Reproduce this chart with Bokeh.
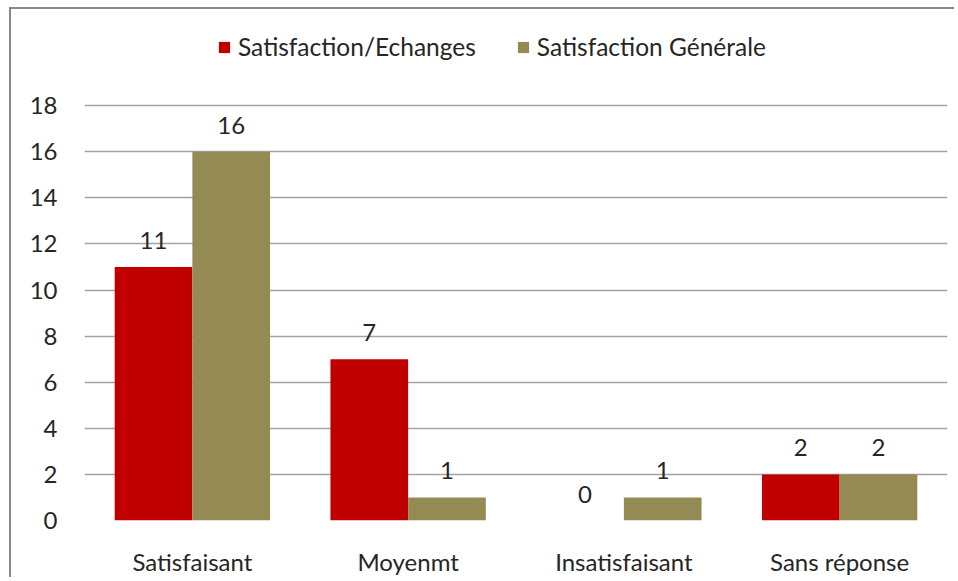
from bokeh.plotting import figure
from bokeh.models import ColumnDataSource, Range1d, FactorRange, LabelSet, Legend, LegendItem
from bokeh.transform import dodge
from bokeh.core.properties import value
from bokeh.embed import file_html
from bokeh.resources import INLINE

categories = ["Satisfaisant", "Moyenmt", "Insatisfaisant", "Sans réponse"]
series_names = ["Satisfaction/Echanges", "Satisfaction Générale"]
echanges = [11, 7, 0, 2]
generale = [16, 1, 1, 2]
y_ticks = [0, 2, 4, 6, 8, 10, 12, 14, 16, 18]

RED = "#C00000"
OLIVE = "#948A54"
FONT = "Lato"
TXT = "#262626"
FS = "24px"

src = ColumnDataSource(dict(cat=categories, ech=echanges, gen=generale,
                            ech_l=[str(v) for v in echanges],
                            gen_l=[str(v) for v in generale]))

# the frame extends above 18 to host the legend; only 0..18 is gridded/labelled
p = figure(width=945, height=570, x_range=FactorRange(*categories, range_padding=0),
           y_range=Range1d(0, 22), output_backend="svg", toolbar_location=None,
           title_location=None,
           min_border_left=73, min_border_right=9, min_border_top=4, min_border_bottom=59)
p.x_range.range_padding = 0
p.styles = {"margin-left": "9px", "margin-top": "7px",
            "border-left": "2px solid #888888", "border-top": "2px solid #888888"}

r1 = p.vbar(x=dodge("cat", -0.18, range=p.x_range), top="ech", width=0.36, source=src,
            fill_color=RED, line_color=None)
r2 = p.vbar(x=dodge("cat", 0.18, range=p.x_range), top="gen", width=0.36, source=src,
            fill_color=OLIVE, line_color=None)

for col, lab, off in (("ech", "ech_l", -0.18), ("gen", "gen_l", 0.18)):
    ls = LabelSet(x=dodge("cat", off, range=p.x_range), y=col, text=lab, source=src,
                  y_offset=18, text_align="center", text_baseline="alphabetic",
                  text_font=value(FONT), text_font_size=FS, text_color=TXT)
    p.add_layout(ls)

p.outline_line_color = None
p.xgrid.grid_line_color = None
p.ygrid.grid_line_color = "#a3a3a3"
p.ygrid.grid_line_width = 1.5
p.yaxis.ticker = y_ticks

for ax in (p.xaxis[0], p.yaxis[0]):
    ax.axis_line_color = None
    ax.major_tick_line_color = None
    ax.minor_tick_line_color = None
    ax.major_tick_out = 0
    ax.major_tick_in = 0
    ax.major_label_text_font = FONT
    ax.major_label_text_font_size = FS
    ax.major_label_text_color = TXT
p.yaxis.major_label_standoff = 27
p.xaxis.major_label_standoff = 26

legend = Legend(items=[LegendItem(label=series_names[0], renderers=[r1]),
                       LegendItem(label=series_names[1], renderers=[r2])],
                orientation="horizontal", location=(133, 459),
                glyph_width=14, glyph_height=14, label_standoff=7, spacing=40,
                padding=0, margin=0, border_line_color=None, background_fill_alpha=0,
                label_text_font=FONT, label_text_font_size="24.5px", label_text_color=TXT)
p.add_layout(legend, "center")

open("out.html", "w").write(file_html(p, INLINE))
